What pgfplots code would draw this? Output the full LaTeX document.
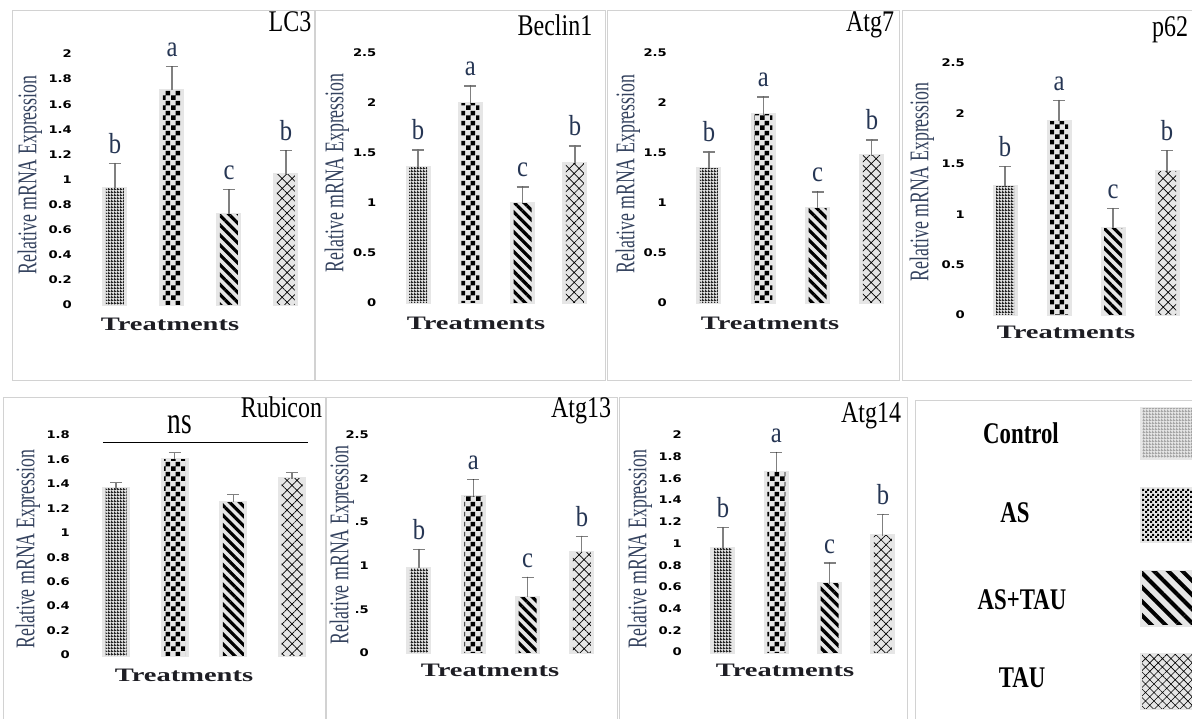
\documentclass[border=0pt]{standalone}
\usepackage{fontspec}
\setmainfont{Liberation Serif}
\newfontfamily\tickfont[FakeStretch=1.25]{DejaVu Sans}
\newfontfamily\ylabfont[FakeStretch=0.66]{Liberation Serif}
\newfontfamily\treatfont[FakeStretch=1.5]{Liberation Serif}
\newfontfamily\legfont[FakeStretch=0.76]{Liberation Serif}
\newfontfamily\nsfont[FakeStretch=0.72]{Liberation Serif}
\newfontfamily\letfont[FakeStretch=0.85]{Liberation Serif}
\newfontfamily\titfont[FakeStretch=0.8]{Liberation Serif}
\usepackage{graphicx}
\usepackage{pgfplots}
\usepackage{pgfplotstable}
\pgfplotsset{compat=1.18}
\usetikzlibrary{patterns,patterns.meta}

\definecolor{barbg}{HTML}{E6E6E6}
\definecolor{errcol}{HTML}{808080}
\definecolor{letcol}{HTML}{263654}
\definecolor{ylabcol}{HTML}{34425E}
\definecolor{treatcol}{HTML}{1E1E24}
\definecolor{framecol}{HTML}{D2D2D2}

\newcommand{\fTick}{\tickfont\bfseries\fontsize{10.5}{11}\selectfont}
\newcommand{\fYlab}{\ylabfont\fontsize{27}{28}\selectfont}
\newcommand{\fTreat}{\treatfont\bfseries\fontsize{19}{20}\selectfont}
\newcommand{\fLet}{\letfont\fontsize{29}{30}\selectfont}
\newcommand{\fTit}{\titfont\fontsize{30}{32}\selectfont}
\newcommand{\fLeg}{\legfont\bfseries\fontsize{30}{32}\selectfont}
\newcommand{\fNs}{\nsfont\fontsize{38}{40}\selectfont}

\tikzdeclarepattern{
  name=ctrl,
  type=uncolored,
  bottom left={(0pt,0pt)},
  top right={(3pt,3pt)},
  tile size={(3pt,3pt)},
  code={
    \pgfpathrectangle{\pgfpoint{0pt}{0pt}}{\pgfpoint{3pt}{1.4pt}}
    \pgfpathrectangle{\pgfpoint{0pt}{1.4pt}}{\pgfpoint{1.5pt}{1.6pt}}
    \pgfusepath{fill}
  }
}
\tikzdeclarepattern{
  name=bigcheck,
  type=uncolored,
  bottom left={(0pt,0pt)},
  top right={(9.5pt,9.5pt)},
  tile size={(9.5pt,9.5pt)},
  code={
    \pgfpathrectangle{\pgfpoint{0pt}{0pt}}{\pgfpoint{4.75pt}{4.75pt}}
    \pgfpathrectangle{\pgfpoint{4.75pt}{4.75pt}}{\pgfpoint{4.75pt}{4.75pt}}
    \pgfusepath{fill}
  }
}
\tikzdeclarepattern{
  name=smallcheck,
  type=uncolored,
  bottom left={(0pt,0pt)},
  top right={(5pt,5pt)},
  tile size={(5pt,5pt)},
  code={
    \pgfpathrectangle{\pgfpoint{0pt}{0pt}}{\pgfpoint{2.5pt}{2.5pt}}
    \pgfpathrectangle{\pgfpoint{2.5pt}{2.5pt}}{\pgfpoint{2.5pt}{2.5pt}}
    \pgfusepath{fill}
  }
}

% ---------------- data: x = group, y = mean, e = error, l = letter
% groups: 1 Control, 2 AS, 3 AS+TAU, 4 TAU
\pgfplotstableread{
x y e l
1 0.93 0.20 b
2 1.71 0.19 a
3 0.72 0.20 c
4 1.04 0.19 b
}\tLCthree
\pgfplotstableread{
x y e l
1 1.35 0.18 b
2 1.99 0.18 a
3 0.99 0.17 c
4 1.39 0.18 b
}\tBeclin
\pgfplotstableread{
x y e l
1 1.34 0.17 b
2 1.88 0.18 a
3 0.94 0.17 c
4 1.47 0.16 b
}\tAtgseven
\pgfplotstableread{
x y e l
1 1.27 0.20 b
2 1.92 0.21 a
3 0.86 0.20 c
4 1.42 0.21 b
}\tpsixtytwo
\pgfplotstableread{
x y e
1 1.36 0.05
2 1.60 0.06
3 1.25 0.06
4 1.44 0.05
}\tRubicon
\pgfplotstableread{
x y e l
1 0.97 0.22 b
2 1.79 0.20 a
3 0.64 0.23 c
4 1.15 0.19 b
}\tAtgthirteen
\pgfplotstableread{
x y e l
1 0.95 0.20 b
2 1.65 0.19 a
3 0.63 0.19 c
4 1.07 0.20 b
}\tAtgfourteen

\pgfplotsset{
  bgbar/.style={ybar, bar shift=0pt, bar width=22pt, fill=barbg, draw=barbg, line width=3pt,
    error bars/error bar style={draw=errcol, line width=1.1pt},
    error bars/error mark options={rotate=90, draw=errcol, mark size=6pt, line width=1.1pt}},
  pbar/.style={ybar, bar shift=0pt, bar width=18pt, draw=none, pattern color=black},
  panel/.style={scale only axis, clip=false, anchor=south west,
    xmin=0.5, xmax=4.5, ymin=0,
    axis line style={draw=none}, major tick length=0pt, xtick=\empty,
    /pgf/number format/assume math mode=true, /pgf/number format/fixed,
    yticklabel style={font=\fTick, anchor=east, inner sep=0pt, text=black},
    xlabel={Treatments}, ylabel={Relative mRNA Expression},
    xlabel style={anchor=center, font=\fTreat, text=treatcol, inner sep=0pt},
    ylabel style={anchor=center, rotate=0, font=\fYlab, text=ylabcol, inner sep=2pt},
    title style={anchor=base, font=\fTit, text=black, inner sep=0pt},
    every node near coord/.append style={anchor=base, inner sep=0pt, yshift=10pt, font=\fLet, text=letcol},
  },
  pos/.style n args={6}{
    xlabel style={at={(rel axis cs:#1,#2)}},
    ylabel style={at={(rel axis cs:#3,#4)}},
    title style={at={(rel axis cs:#5,#6)}}},
}

\newcommand{\drawbars}[1]{%
  \addplot[bgbar, error bars/.cd, y dir=plus, y explicit] table[x=x, y=y, y error=e]{#1};
  \addplot[pbar, pattern=ctrl, pattern color=black!85] table[x=x, y=y, restrict x to domain=1:1]{#1};
  \addplot[pbar, pattern=bigcheck] table[x=x, y=y, restrict x to domain=2:2]{#1};
  \addplot[pbar, pattern={Lines[angle=-45,distance=7pt,line width=3.2pt]}] table[x=x, y=y, restrict x to domain=3:3]{#1};
  \addplot[pbar, pattern={Hatch[angle=45,distance=7pt,line width=0.7pt]}] table[x=x, y=y, restrict x to domain=4:4]{#1};
}
\newcommand{\drawletters}[1]{%
  \addplot[only marks, mark=*, mark options={draw=none, fill=none}, mark size=0.1pt,
    nodes near coords, point meta=explicit symbolic]
    table[x=x, y expr=\thisrow{y}+\thisrow{e}, meta=l]{#1};
}

\begin{document}
\begin{tikzpicture}
\useasboundingbox (0pt,0pt) rectangle (1192pt,718pt);

% panel frames
\begin{scope}[draw=framecol, line width=0.8pt]
\draw (12pt,338pt) rectangle (314pt,708pt);
\draw (315pt,338pt) rectangle (605pt,708pt);
\draw (607pt,338pt) rectangle (899pt,708pt);
\draw (902pt,338pt) rectangle (1198pt,708pt);
\draw (3pt,-5pt) rectangle (325pt,321pt);
\draw (326pt,-5pt) rectangle (617pt,321pt);
\draw (619pt,-5pt) rectangle (907pt,321pt);
\draw (915pt,-5pt) rectangle (1198pt,318pt);
\end{scope}

% ---- LC3
\begin{axis}[panel, at={(86.5pt,413pt)}, width=228pt, height=251pt, ymax=2,
  ytick={0,0.2,0.4,0.6,0.8,1,1.2,1.4,1.6,1.8,2},
  yticklabel style={xshift=-14.5pt},
  title={LC3}, pos={0.3662}{-0.0757}{-0.2478}{0.518}{0.8925}{1.0677}]
\drawbars{\tLCthree}
\drawletters{\tLCthree}
\end{axis}

% ---- Beclin1
\begin{axis}[panel, at={(391.85pt,415pt)}, width=209.3pt, height=250pt, ymax=2.5,
  ytick={0,0.5,1,1.5,2,2.5},
  yticklabel style={xshift=-15.3pt},
  title={Beclin1}, pos={0.402}{-0.08}{-0.2621}{0.52}{0.7795}{1.044}]
\drawbars{\tBeclin}
\drawletters{\tBeclin}
\end{axis}

% ---- Atg7
\begin{axis}[panel, at={(681.8pt,415pt)}, width=217.3pt, height=250pt, ymax=2.5,
  ytick={0,0.5,1,1.5,2,2.5},
  yticklabel style={xshift=-14.8pt},
  title={Atg7}, pos={0.4059}{-0.08}{-0.2476}{0.516}{0.8661}{1.06}]
\drawbars{\tAtgseven}
\drawletters{\tAtgseven}
\end{axis}

% ---- p62
\begin{axis}[panel, at={(978pt,403pt)}, width=216pt, height=252pt, ymax=2.5,
  ytick={0,0.5,1,1.5,2,2.5},
  yticklabel style={xshift=-13pt},
  title={p62}, pos={0.4074}{-0.0675}{-0.2593}{0.5278}{0.8889}{1.0833}]
\drawbars{\tpsixtytwo}
\drawletters{\tpsixtytwo}
\end{axis}

% ---- Rubicon
\begin{axis}[panel, at={(86.67pt,63pt)}, width=234.67pt, height=220pt, ymax=1.8,
  ytick={0,0.2,0.4,0.6,0.8,1,1.2,1.4,1.6,1.8},
  yticklabel style={xshift=-16.7pt},
  bgbar/.append style={bar width=25pt}, pbar/.append style={bar width=21pt},
  title={Rubicon}, pos={0.4148}{-0.0909}{-0.25}{0.4818}{0.83}{1.05}]
\drawbars{\tRubicon}
\draw[black, line width=0.9pt] (axis cs:0.778,1.735) -- (axis cs:4.272,1.735);
\node[font=\fNs, text=black, inner sep=0pt, anchor=center] at (rel axis cs:0.3977,1.0455) {ns};
\end{axis}

% ---- Atg13
\begin{axis}[panel, at={(391.8pt,65pt)}, width=217.3pt, height=218pt, ymax=2.5,
  ytick={0,0.5,1,1.5,2,2.5},
  yticklabel style={xshift=-22.8pt},
  ylabel style={fill=white},
  title={Atg13}, pos={0.4519}{-0.078}{-0.2292}{0.4954}{0.8707}{1.055}]
\drawbars{\tAtgthirteen}
\drawletters{\tAtgthirteen}
\end{axis}

% ---- Atg14
\begin{axis}[panel, at={(696.3pt,66pt)}, width=213.3pt, height=217pt, ymax=2,
  ytick={0,0.2,0.4,0.6,0.8,1,1.2,1.4,1.6,1.8,2},
  yticklabel style={xshift=-14.3pt},
  title={Atg14}, pos={0.4158}{-0.083}{-0.264}{0.4747}{0.819}{1.032}]
\drawbars{\tAtgfourteen}
\drawletters{\tAtgfourteen}
\end{axis}

% ---- key panel
\begin{scope}[font=\fLeg]
\node[anchor=center] at (1021pt,285pt) {Control};
\node[anchor=center] at (1015pt,205pt) {AS};
\node[anchor=center] at (1022pt,118pt) {AS+TAU};
\node[anchor=center] at (1022pt,40pt) {TAU};
\end{scope}
\fill[barbg] (1140pt,258pt) rectangle (1196pt,311pt);
\fill[pattern=ctrl, pattern color=gray!70] (1142pt,260pt) rectangle (1196pt,309pt);
\fill[barbg] (1140pt,175pt) rectangle (1196pt,231pt);
\fill[pattern=smallcheck, pattern color=black] (1142pt,177pt) rectangle (1196pt,229pt);
\fill[barbg] (1140pt,91pt) rectangle (1196pt,148pt);
\fill[pattern={Lines[angle=-45,distance=10pt,line width=4pt]}, pattern color=black] (1142pt,93pt) rectangle (1196pt,146pt);
\fill[barbg] (1140pt,8pt) rectangle (1196pt,65pt);
\fill[pattern={Hatch[angle=45,distance=6pt,line width=0.6pt]}, pattern color=black] (1142pt,10pt) rectangle (1196pt,63pt);
\end{tikzpicture}
\end{document}
